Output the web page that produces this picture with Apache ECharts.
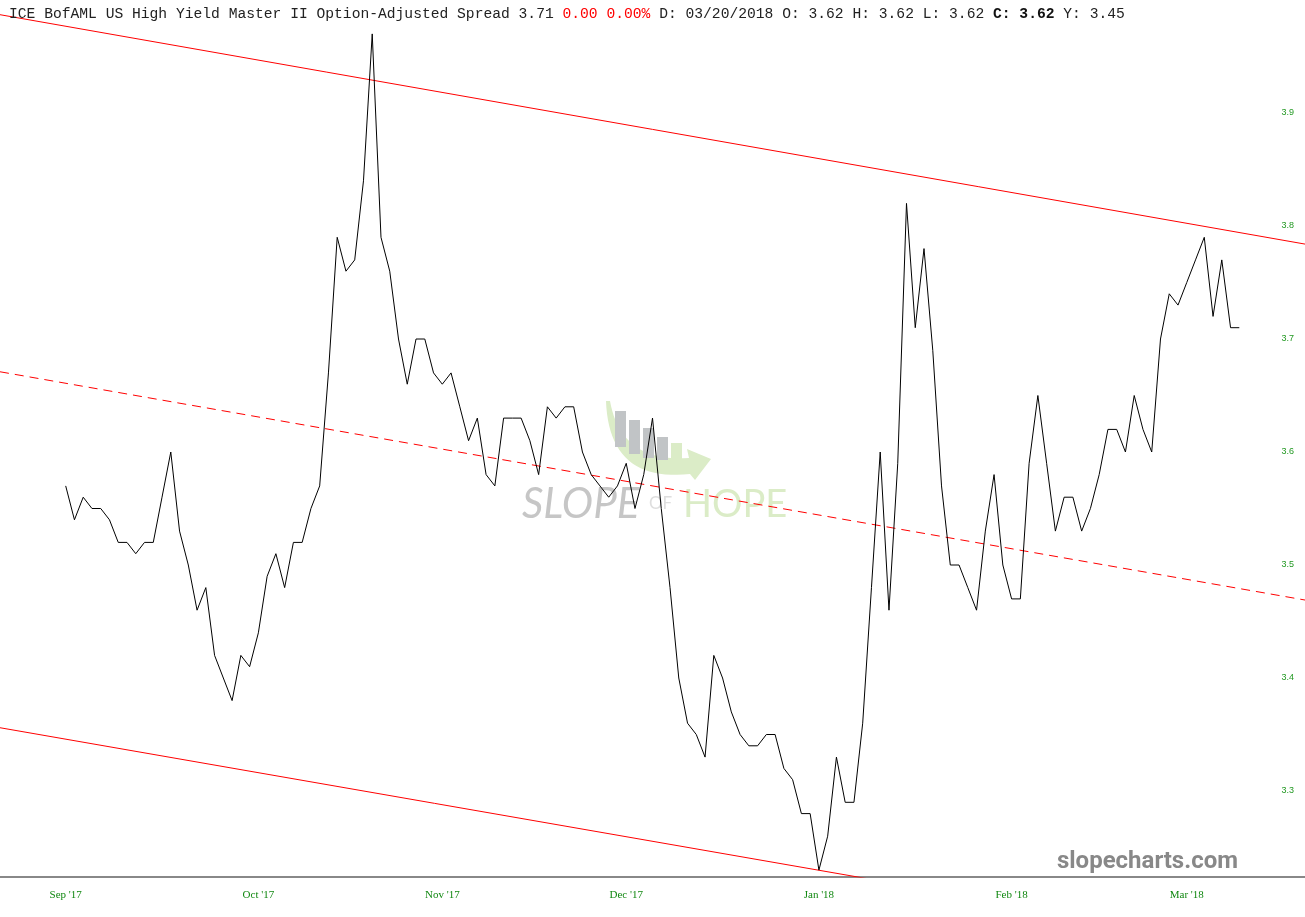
<!DOCTYPE html>
<html>
<head>
<meta charset="utf-8">
<title>HY OAS</title>
<script src="https://cdn.jsdelivr.net/npm/echarts@6.0.0/dist/echarts.min.js"></script>
<style>
  html, body { margin: 0; padding: 0; background: #fff; }
  #chart { width: 1305px; height: 917px; }
</style>
</head>
<body>
<div id="chart"></div>
<script>
// month tick labels and the day index each month starts at
const monthLabels = ["Sep '17", "Oct '17", "Nov '17", "Dec '17", "Jan '18", "Feb '18", "Mar '18"]
const monthStartIndex = [0, 22, 43, 64, 86, 108, 128]

// daily option-adjusted spread
const spread = [
  3.57, 3.54, 3.56, 3.55, 3.55, 3.54, 3.52, 3.52, 3.51, 3.52,
  3.52, 3.56, 3.60, 3.53, 3.50, 3.46, 3.48, 3.42, 3.40, 3.38,
  3.42, 3.41, 3.44, 3.49, 3.51, 3.48, 3.52, 3.52, 3.55, 3.57,
  3.67, 3.79, 3.76, 3.77, 3.84, 3.97, 3.79, 3.76, 3.70, 3.66,
  3.70, 3.70, 3.67, 3.66, 3.67, 3.64, 3.61, 3.63, 3.58, 3.57,
  3.63, 3.63, 3.63, 3.61, 3.58, 3.64, 3.63, 3.64, 3.64, 3.60,
  3.58, 3.57, 3.56, 3.57, 3.59, 3.55, 3.58, 3.63, 3.55, 3.48,
  3.40, 3.36, 3.35, 3.33, 3.42, 3.40, 3.37, 3.35, 3.34, 3.34,
  3.35, 3.35, 3.32, 3.31, 3.28, 3.28, 3.23, 3.26, 3.33, 3.29,
  3.29, 3.36, 3.48, 3.60, 3.46, 3.59, 3.82, 3.71, 3.78, 3.69,
  3.57, 3.50, 3.50, 3.48, 3.46, 3.53, 3.58, 3.50, 3.47, 3.47,
  3.59, 3.65, 3.59, 3.53, 3.56, 3.56, 3.53, 3.55, 3.58, 3.62,
  3.62, 3.60, 3.65, 3.62, 3.60, 3.70, 3.74, 3.73, 3.75, 3.77,
  3.79, 3.72, 3.77, 3.71, 3.71
]

// regression channel drawn across the whole window
const channelX = [-7.5, 141.5]
const upperChannel = [3.987, 3.784]
const midChannel = [3.671, 3.469]
const lowerChannel = [3.356, 3.155]

// header line pieces
const titleName = 'ICE BofAML US High Yield Master II Option-Adjusted Spread 3.71 '
const titleChange = '0.00 0.00%'
const titleOhl = ' D: 03/20/2018 O: 3.62 H: 3.62 L: 3.62 '
const titleClose = 'C: 3.62'
const titlePrev = ' Y: 3.45'

const chart = echarts.init(document.getElementById('chart'))

function channel(vals) {
  return channelX.map((x, i) => [x, vals[i]])
}

// points along a quadratic curve, for the watermark swoosh
function quad(p0, c, p1, n) {
  const pts = []
  for (let k = 0; k <= n; k++) {
    const t = k / n
    const a = (1 - t) * (1 - t), b = 2 * t * (1 - t), d = t * t
    pts.push([a * p0[0] + b * c[0] + d * p1[0], a * p0[1] + b * c[1] + d * p1[1]])
  }
  return pts
}

const swoosh = [].concat(
  quad([606, 401], [609, 483], [690, 474], 24),
  [[695, 480], [711, 459], [687, 449]],
  quad([689, 458], [621, 463], [610, 401], 24)
)

const mono = 'Liberation Mono, DejaVu Sans Mono, monospace'
const wmGreen = '#dbecc7'
const wmGray = '#c1c4c6'

chart.setOption({
  animation: false,
  backgroundColor: '#fff',
  title: {
    left: 9,
    top: 7,
    padding: 0,
    text: '{n|' + titleName + '}{r|' + titleChange + '}{n|' + titleOhl + '}{b|' + titleClose + '}{n|' + titlePrev + '}',
    textStyle: {
      fontFamily: mono,
      fontSize: 14.65,
      fontWeight: 'normal',
      rich: {
        n: { fontFamily: mono, fontSize: 14.65, color: '#222' },
        r: { fontFamily: mono, fontSize: 14.65, color: '#ff0000' },
        b: { fontFamily: mono, fontSize: 14.65, color: '#111', fontWeight: 'bold' }
      }
    }
  },
  grid: {
    left: 0,
    right: 0,
    top: 0,
    bottom: 40
  },
  xAxis: {
    type: 'value',
    min: channelX[0],
    max: channelX[1],
    axisLine: { show: true, lineStyle: { color: '#888', width: 2 } },
    axisTick: { show: false },
    splitLine: { show: false },
    axisLabel: {
      customValues: monthStartIndex,
      formatter: (v) => monthLabels[monthStartIndex.indexOf(v)] || '',
      color: '#118811',
      fontFamily: 'Liberation Serif, serif',
      fontSize: 11,
      margin: 13
    }
  },
  yAxis: {
    type: 'value',
    position: 'right',
    min: 4.0 - 877 / 1130,
    max: 4.0,
    splitNumber: 8,
    axisLine: { show: false },
    axisTick: { show: false },
    splitLine: { show: false },
    axisLabel: {
      inside: true,
      margin: 11,
      showMinLabel: false,
      showMaxLabel: false,
      color: '#229922',
      fontFamily: 'Liberation Sans, Arial, sans-serif',
      fontSize: 9,
      formatter: (v) => v.toFixed(1)
    }
  },
  graphic: [
    // Slope of Hope watermark
    { type: 'polygon', z: 0, shape: { points: swoosh }, style: { fill: wmGreen } },
    { type: 'rect', z: 0, shape: { x: 615, y: 411, width: 11, height: 36 }, style: { fill: wmGray } },
    { type: 'rect', z: 0, shape: { x: 629, y: 420, width: 11, height: 34 }, style: { fill: wmGray } },
    { type: 'rect', z: 0, shape: { x: 643, y: 428, width: 11, height: 30 }, style: { fill: wmGray } },
    { type: 'rect', z: 0, shape: { x: 657, y: 437, width: 11, height: 23 }, style: { fill: wmGray } },
    { type: 'rect', z: 0, shape: { x: 671, y: 443, width: 11, height: 16 }, style: { fill: wmGreen } },
    {
      type: 'text',
      z: 0,
      x: 522,
      y: 525,
      style: {
        text: 'SLOPE',
        fill: '#c6c6c6',
        font: 'italic 42px Lato, "Open Sans", sans-serif',
        textVerticalAlign: 'bottom'
      }
    },
    {
      type: 'text',
      z: 0,
      x: 649,
      y: 512,
      style: {
        text: 'OF',
        fill: '#dedede',
        font: '17px Lato, "Open Sans", sans-serif',
        textVerticalAlign: 'bottom'
      }
    },
    {
      type: 'text',
      z: 0,
      x: 683,
      y: 524,
      style: {
        text: 'HOPE',
        fill: wmGreen,
        font: '38px Lato, "Open Sans", sans-serif',
        textVerticalAlign: 'bottom'
      }
    },
    {
      type: 'text',
      z: 0,
      x: 1238,
      y: 874,
      style: {
        text: 'slopecharts.com',
        fill: '#888',
        font: 'bold 24px Roboto, "Liberation Sans", sans-serif',
        textAlign: 'right',
        textVerticalAlign: 'bottom'
      }
    }
  ],
  series: [
    {
      name: 'upper',
      type: 'line',
      data: channel(upperChannel),
      showSymbol: false,
      silent: true,
      lineStyle: { color: '#ff0000', width: 1 }
    },
    {
      name: 'middle',
      type: 'line',
      data: channel(midChannel),
      showSymbol: false,
      silent: true,
      lineStyle: { color: '#ff0000', width: 1, type: [9, 6] }
    },
    {
      name: 'lower',
      type: 'line',
      data: channel(lowerChannel),
      showSymbol: false,
      silent: true,
      clip: true,
      lineStyle: { color: '#ff0000', width: 1 }
    },
    {
      name: 'OAS',
      type: 'line',
      data: spread.map((v, i) => [i, v]),
      showSymbol: false,
      lineStyle: { color: '#000', width: 1 },
      z: 5
    }
  ]
})
</script>
</body>
</html>
